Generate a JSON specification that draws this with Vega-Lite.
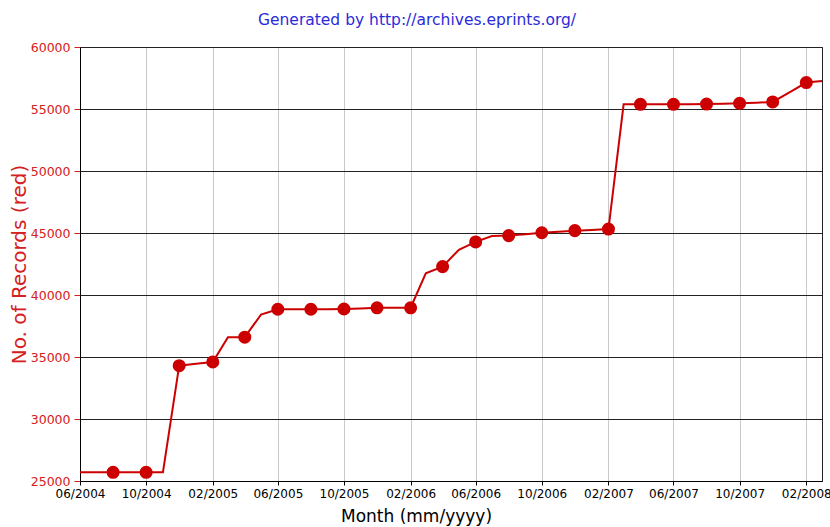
{
  "$schema": "https://vega.github.io/schema/vega-lite/v6.json",
  "width": 742,
  "height": 434,
  "autosize": "none",
  "padding": {"left": 80, "top": 47, "right": 8, "bottom": 46},
  "background": "white",
  "config": {"font": "DejaVu Sans", "view": {"stroke": "#222", "strokeWidth": 1}},
  "title": {"text": "Generated by http://archives.eprints.org/", "fontSize": 15.5, "fontWeight": "normal", "color": "#2b2bd9", "anchor": "middle", "offset": 13, "dx": -34},
  "data": {"values": [
    {"date": "2004-06-01T00:00:00", "records": 25700},
    {"date": "2004-07-01T00:00:00", "records": 25700},
    {"date": "2004-08-01T00:00:00", "records": 25700},
    {"date": "2004-09-01T00:00:00", "records": 25700},
    {"date": "2004-10-01T00:00:00", "records": 25700},
    {"date": "2004-11-01T00:00:00", "records": 25700},
    {"date": "2004-12-01T00:00:00", "records": 34300},
    {"date": "2005-01-01T00:00:00", "records": 34450},
    {"date": "2005-02-01T00:00:00", "records": 34600},
    {"date": "2005-03-01T00:00:00", "records": 36600},
    {"date": "2005-04-01T00:00:00", "records": 36600},
    {"date": "2005-05-01T00:00:00", "records": 38420},
    {"date": "2005-06-01T00:00:00", "records": 38850},
    {"date": "2005-07-01T00:00:00", "records": 38850},
    {"date": "2005-08-01T00:00:00", "records": 38850},
    {"date": "2005-09-01T00:00:00", "records": 38850},
    {"date": "2005-10-01T00:00:00", "records": 38870},
    {"date": "2005-11-01T00:00:00", "records": 38920},
    {"date": "2005-12-01T00:00:00", "records": 38970},
    {"date": "2006-01-01T00:00:00", "records": 38970},
    {"date": "2006-02-01T00:00:00", "records": 38970},
    {"date": "2006-03-01T00:00:00", "records": 41750},
    {"date": "2006-04-01T00:00:00", "records": 42290},
    {"date": "2006-05-01T00:00:00", "records": 43650},
    {"date": "2006-06-01T00:00:00", "records": 44280},
    {"date": "2006-07-01T00:00:00", "records": 44760},
    {"date": "2006-08-01T00:00:00", "records": 44790},
    {"date": "2006-09-01T00:00:00", "records": 44900},
    {"date": "2006-10-01T00:00:00", "records": 45020},
    {"date": "2006-11-01T00:00:00", "records": 45100},
    {"date": "2006-12-01T00:00:00", "records": 45190},
    {"date": "2007-01-01T00:00:00", "records": 45250},
    {"date": "2007-02-01T00:00:00", "records": 45320},
    {"date": "2007-03-01T00:00:00", "records": 55380},
    {"date": "2007-04-01T00:00:00", "records": 55380},
    {"date": "2007-05-01T00:00:00", "records": 55380},
    {"date": "2007-06-01T00:00:00", "records": 55380},
    {"date": "2007-07-01T00:00:00", "records": 55390},
    {"date": "2007-08-01T00:00:00", "records": 55400},
    {"date": "2007-09-01T00:00:00", "records": 55430},
    {"date": "2007-10-01T00:00:00", "records": 55460},
    {"date": "2007-11-01T00:00:00", "records": 55510},
    {"date": "2007-12-01T00:00:00", "records": 55570},
    {"date": "2008-01-01T00:00:00", "records": 56350},
    {"date": "2008-02-01T00:00:00", "records": 57130},
    {"date": "2008-03-01T00:00:00", "records": 57260}
  ]},
  "encoding": {
    "x": {
      "field": "date", "type": "temporal",
      "scale": {"domain": [{"year": 2004, "month": 6, "date": 1}, {"year": 2008, "month": 3, "date": 1}]},
      "axis": {
        "values": [
          {"year": 2004, "month": 6, "date": 1}, {"year": 2004, "month": 10, "date": 1},
          {"year": 2005, "month": 2, "date": 1}, {"year": 2005, "month": 6, "date": 1},
          {"year": 2005, "month": 10, "date": 1}, {"year": 2006, "month": 2, "date": 1},
          {"year": 2006, "month": 6, "date": 1}, {"year": 2006, "month": 10, "date": 1},
          {"year": 2007, "month": 2, "date": 1}, {"year": 2007, "month": 6, "date": 1},
          {"year": 2007, "month": 10, "date": 1}, {"year": 2008, "month": 2, "date": 1}
        ],
        "format": "%m/%Y",
        "title": "Month (mm/yyyy)",
        "titleFontSize": 17, "titleFontWeight": "normal", "titleColor": "#000", "titlePadding": 9, "titleX": 336,
        "labelFontSize": 12, "labelColor": "#000", "labelPadding": 3, "labelFlush": false, "labelOverlap": false,
        "tickSize": 4, "tickColor": "#000", "domainColor": "#000",
        "grid": true, "gridColor": "#c8c8c8"
      }
    },
    "y": {
      "field": "records", "type": "quantitative",
      "scale": {"domain": [25000, 60000], "nice": false, "zero": false},
      "axis": {
        "values": [25000, 30000, 35000, 40000, 45000, 50000, 55000, 60000],
        "format": "d",
        "title": "No. of Records (red)",
        "titleFontSize": 20, "titleFontWeight": "normal", "titleColor": "#d42020", "titlePadding": 1,
        "labelFontSize": 12.5, "labelColor": "#d42020", "labelPadding": 4,
        "tickSize": 6, "tickColor": "#d42020", "domainColor": "#000",
        "grid": true, "gridColor": "#222"
      }
    }
  },
  "layer": [
    {"mark": {"type": "line", "color": "#cc0000", "strokeWidth": 2}},
    {
      "transform": [{"filter": "month(datum.date) % 2 == 1 && datum.date > datetime(2004, 6, 15)"}],
      "mark": {"type": "point", "filled": true, "shape": "circle", "size": 170, "color": "#cc0000", "opacity": 1}
    }
  ]
}
